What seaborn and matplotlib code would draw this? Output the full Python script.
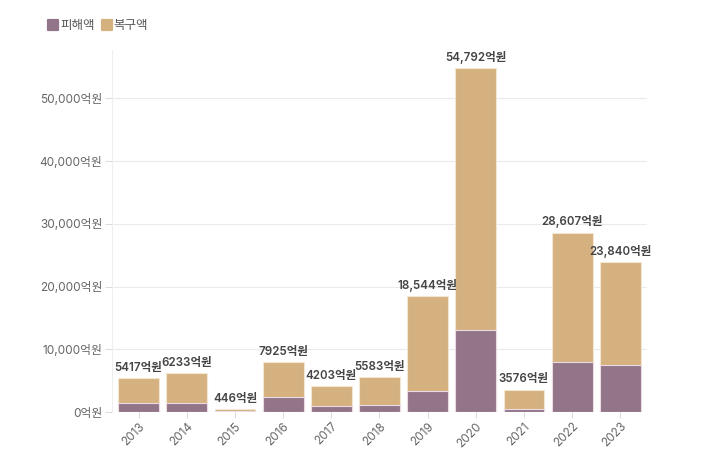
import numpy as np
import pandas as pd
import matplotlib
matplotlib.use("Agg")
import matplotlib.pyplot as plt
from matplotlib.lines import Line2D
from matplotlib.markers import MarkerStyle
import seaborn as sns

# ---- data (억원) ----
years = ['2013', '2014', '2015', '2016', '2017', '2018', '2019', '2020', '2021', '2022', '2023']
totals = [5417, 6233, 446, 7925, 4203, 5583, 18544, 54792, 3576, 28607, 23840]
damage = [1500, 1400, 100, 2350, 900, 1100, 3400, 13050, 500, 7950, 7500]   # 피해액 (estimated)
series_names = ['피해액', '복구액']

df = pd.DataFrame({'year': years, 'total': totals, 'damage': damage})

purple = '#93758A'
tan = '#D4B17F'

sns.set_theme(style="white")
plt.rcParams['font.family'] = ['Inter', 'Noto Sans CJK KR', 'DejaVu Sans']

fig = plt.figure(figsize=(7.1, 4.62), dpi=100)
ax = fig.add_axes([0.158, 0.108, 0.753, 0.784])

# total bars (복구액 sits on top of 피해액)
sns.barplot(data=df, x='year', y='total', color=tan, saturation=1, width=0.85,
            edgecolor='#F3E6D2', linewidth=0.8, ax=ax, zorder=2)
sns.barplot(data=df, x='year', y='damage', color=purple, saturation=1, width=0.85,
            edgecolor='#EADBE2', linewidth=0.8, ax=ax, zorder=3)

# total labels
labels = [f"{v:,}억원" if v >= 10000 else f"{v}억원" for v in totals]
ax.bar_label(ax.containers[0], labels=labels, padding=3, fontsize=8.3,
             fontweight='semibold', color='#444444')

ax.set_ylim(0, 57700)
ax.set_yticks(range(0, 50001, 10000))
ax.set_yticklabels([f"{v:,}억원" for v in range(0, 50001, 10000)])
ax.set_xlim(-0.55, 10.55)
ax.yaxis.grid(True, color='#EBEBEB', linewidth=0.8, zorder=0)
ax.set_axisbelow(True)
ax.set_xlabel('')
ax.set_ylabel('')

for s in ['top', 'right', 'bottom']:
    ax.spines[s].set_visible(False)
ax.spines['left'].set_color('#EEEEEE')
ax.spines['left'].set_linewidth(0.8)
ax.axhline(0, color='#E6E6E6', linewidth=0.8, zorder=1)

ax.tick_params(axis='y', length=5, width=0.8, color='#DDDDDD', labelsize=8.5,
               labelcolor='#666666', pad=2, left=True)
ax.tick_params(axis='x', length=4, width=0.8, color='#DDDDDD', labelsize=8.5,
               labelcolor='#666666', pad=2, bottom=True)
plt.setp(ax.get_xticklabels(), rotation=45, ha='right', rotation_mode='anchor')

# legend with rounded square markers
mk = MarkerStyle('s', joinstyle='round')
handles = [Line2D([], [], linestyle='none', marker=mk, markersize=6.5,
                  markerfacecolor=c, markeredgecolor=c, markeredgewidth=1.6)
           for c in (purple, tan)]
fig.legend(handles, series_names, loc='upper left', bbox_to_anchor=(0.053, 0.98),
           ncol=2, frameon=False, fontsize=9, handlelength=0.7,
           handletextpad=0.2, columnspacing=0.6, labelcolor='#555555')

fig.savefig('out.png', dpi=100, facecolor='white')
